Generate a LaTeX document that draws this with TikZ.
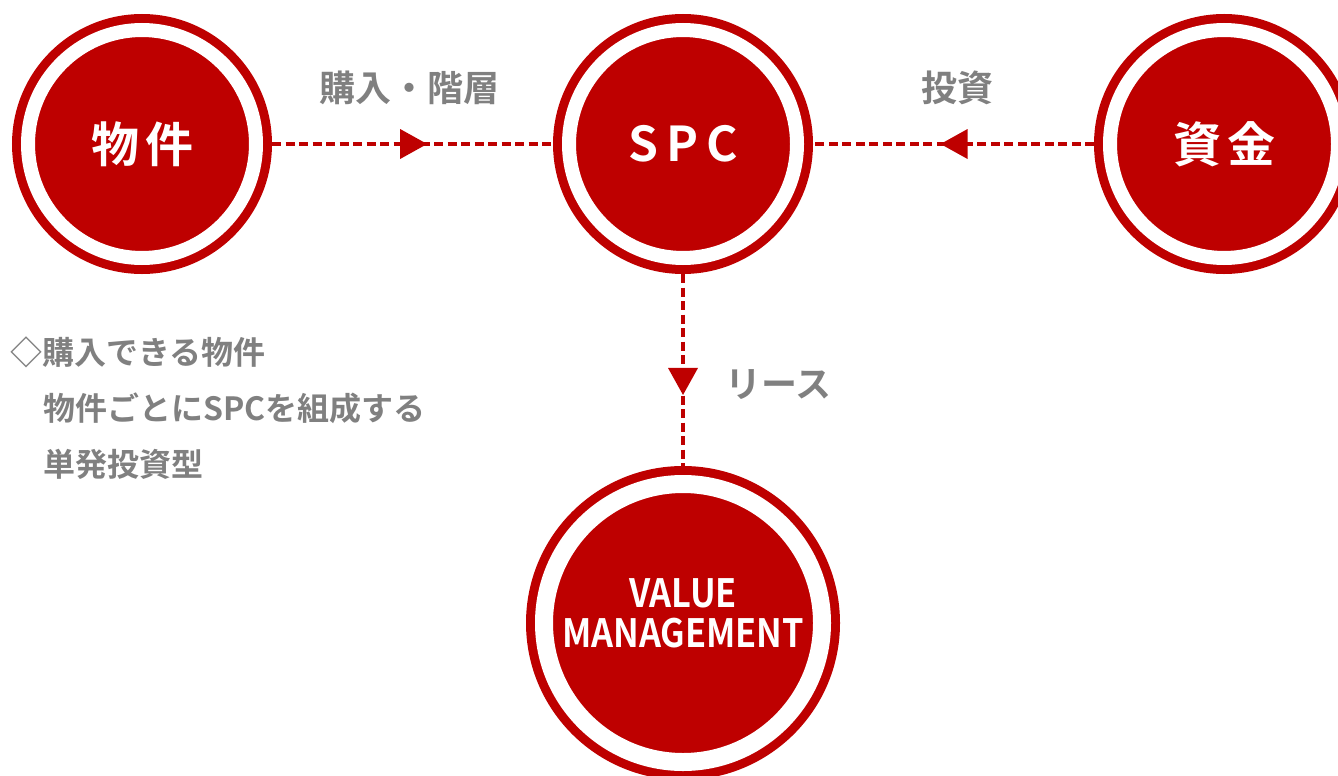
\documentclass[tikz,border=0pt]{standalone}
\usepackage{fontspec}
\newfontfamily\jp{Noto Sans CJK JP}[BoldFont={Noto Sans CJK JP Bold}]
\newfontfamily\jpnarrow{Noto Sans CJK JP}[BoldFont={Noto Sans CJK JP Bold}, FakeStretch=0.88]
\usetikzlibrary{decorations.markings}
\definecolor{brand}{HTML}{BE0000}
\definecolor{txtgray}{HTML}{808080}
\begin{document}
\begin{tikzpicture}[x=1pt,y=-1pt,
  bubble/.style={circle, draw=brand, fill=brand, line width=9pt, double=white,
    double distance=14pt, minimum size=228pt, inner sep=0pt, outer sep=16pt,
    text=white, font=\jp\bfseries\fontsize{48}{48}\selectfont},
  bigbubble/.style={bubble, minimum size=278pt, double distance=18pt, outer sep=18pt},
  vmtext/.style={inner sep=0pt, text=white, align=center,
    font=\jpnarrow\bfseries\fontsize{39}{40}\selectfont},
  flow/.style={draw=brand, line width=4.5pt, dash pattern=on 9pt off 4.5pt},
  midarrow/.style={postaction={decorate, decoration={markings,
    mark=at position #1 with {\fill[brand] (0,0) -- (-27pt,-15pt) -- (-27pt,15pt) -- cycle;}}}},
  lbl/.style={inner sep=0pt, text=txtgray, font=\jp\bfseries\fontsize{36}{36}\selectfont},
  note/.style={inner sep=0pt, text=txtgray, font=\jp\bfseries\fontsize{32}{32}\selectfont}
]
\useasboundingbox (0,0) rectangle (1338,776);
\clip (0,0) rectangle (1338,776);

\node[bubble] (bukken) at (142,144) {物\hspace{6pt}件};
\node[bubble] (spc) at (683,144) {S\hspace{8pt}P\hspace{8pt}C};
\node[bubble] (shikin) at (1224,144) {資\hspace{6pt}金};
\node[bigbubble] (vm) at (683,623) {};
\node[vmtext] (vmlabel) at (683,613) {VALUE\\MANAGEMENT};

\draw[flow, midarrow=0.552] (bukken) -- (spc);
\draw[flow, midarrow=0.546] (shikin) -- (spc);
\draw[flow, midarrow=0.63] (spc) -- (vm);

\node[lbl] (l1) at (409,88) {購入・階層};
\node[lbl] (l2) at (957,88) {投資};
\node[lbl, anchor=west] (l3) at (725,385) {リース};

\node[note, anchor=west] (n1) at (10,352) {◇購入できる物件};
\node[note, anchor=west] (n2) at (43,408) {物件ごとにSPCを組成する};
\node[note, anchor=west] (n3) at (43,464) {単発投資型};
\end{tikzpicture}
\end{document}
